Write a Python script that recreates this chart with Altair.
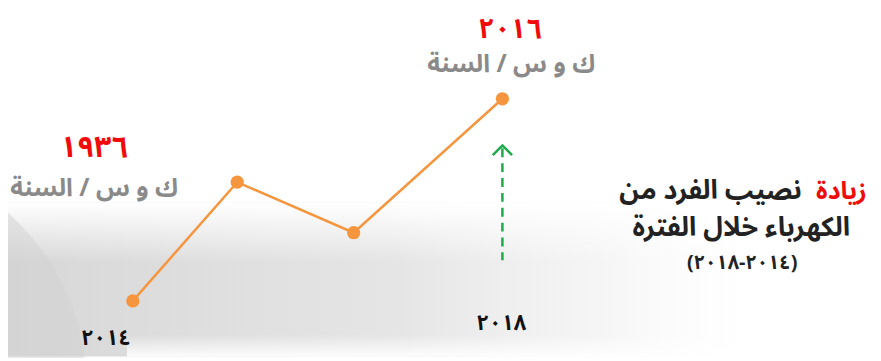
import altair as alt
import pandas as pd

# ---- data ----
years = [2014, 2015.13, 2016.39, 2018]          # horizontal position of each point
values = [1936, 1983, 1963, 2016]              # kWh per person per year
value_labels = ["١٩٣٦", "", "", "٢٠١٦"]
year_labels = ["٢٠١٤", "", "", "٢٠١٨"]
unit_label = "ك و س / السنة"
title_red = "زيادة"
title_line1 = "نصيب الفرد من"
title_line2 = "الكهرباء خلال الفترة"
title_line3 = "(٢٠١٤-٢٠١٨)"

ORANGE = "#F5963F"
RED = "#F00A0A"
GRAY = "#8A8A8A"
GREEN = "#1DAA4A"
FONT = "Noto Sans Arabic, Noto Kufi Arabic, DejaVu Sans"

W, H = 873, 350

df = pd.DataFrame({"year": years, "value": values,
                   "vlabel": value_labels, "ylabel": year_labels,
                   "idx": list(range(len(years)))})
df["unit"] = unit_label

xs = alt.X("year:Q", scale=alt.Scale(domain=[2012.649, 2022.011], nice=False, zero=False), axis=None)
ys = alt.Y("value:Q", scale=alt.Scale(domain=[1914.04, 2051.29], nice=False, zero=False), axis=None)

base = alt.Chart(df)

# ---- decorative background ----
bg_df = pd.DataFrame({"k": [0]})
band = alt.Chart(bg_df).mark_rect(
    color=alt.LinearGradient(gradient="linear", x1=0, x2=1, y1=0, y2=0,
                             stops=[alt.GradientStop(color="rgba(205,205,205,0.8)", offset=0),
                                    alt.GradientStop(color="rgba(218,218,218,0.7)", offset=0.45),
                                    alt.GradientStop(color="rgba(235,235,235,0.45)", offset=0.7),
                                    alt.GradientStop(color="rgba(255,255,255,0)", offset=0.88)])
).encode(x=alt.value(0), x2=alt.value(W), y=alt.value(195), y2=alt.value(H))
fade_top = alt.Chart(bg_df).mark_rect(
    color=alt.LinearGradient(gradient="linear", x1=0, x2=0, y1=0, y2=1,
                             stops=[alt.GradientStop(color="rgba(255,255,255,1)", offset=0),
                                    alt.GradientStop(color="rgba(255,255,255,0)", offset=1)])
).encode(x=alt.value(0), x2=alt.value(W), y=alt.value(195), y2=alt.value(255))
fade_bot = alt.Chart(bg_df).mark_rect(
    color=alt.LinearGradient(gradient="linear", x1=0, x2=0, y1=0, y2=1,
                             stops=[alt.GradientStop(color="rgba(255,255,255,0)", offset=0),
                                    alt.GradientStop(color="rgba(255,255,255,0.9)", offset=1)])
).encode(x=alt.value(120), x2=alt.value(W), y=alt.value(328), y2=alt.value(H))
disc = alt.Chart(bg_df).mark_point(shape="circle", filled=True, color="#d2d2d2", opacity=0.5,
                                   size=225000).encode(x=alt.value(-158), y=alt.value(382))

# ---- data marks ----
line = base.mark_line(color=ORANGE, strokeWidth=2.5).encode(x=xs, y=ys)
pts = base.mark_point(filled=True, color=ORANGE, opacity=1, size=180).encode(x=xs, y=ys)

first = base.transform_filter("datum.idx == 0")
last = base.transform_filter("datum.idx == 3")

v_first = first.mark_text(font=FONT, fontWeight="bold", fontSize=30, color=RED,
                          dx=-39, dy=-154, baseline="middle").encode(x=xs, y=ys, text="vlabel:N")
u_first = first.mark_text(font=FONT, fontWeight="bold", fontSize=25, color=GRAY,
                          dx=-39, dy=-114, baseline="middle").encode(x=xs, y=ys, text="unit:N")
y_first = first.mark_text(font=FONT, fontWeight="bold", fontSize=22, color="#111111",
                          dx=-27, dy=38, baseline="middle").encode(x=xs, y=ys, text="ylabel:N")

v_last = last.mark_text(font=FONT, fontWeight="bold", fontSize=28, color=RED,
                        dx=8, dy=-69, baseline="middle").encode(x=xs, y=ys, text="vlabel:N")
u_last = last.mark_text(font=FONT, fontWeight="bold", fontSize=25, color=GRAY,
                        dx=9, dy=-35, baseline="middle").encode(x=xs, y=ys, text="unit:N")
y_last = last.mark_text(font=FONT, fontWeight="bold", fontSize=22, color="#111111",
                        dx=-1, dy=226, baseline="middle").encode(x=xs, y=ys, text="ylabel:N")

arrow_shaft = last.mark_rule(color=GREEN, strokeWidth=2.5, strokeDash=[9, 6],
                             yOffset=50, y2Offset=163).encode(x=xs, y=ys, y2="value:Q")
arrow_head = last.mark_point(shape="M-1,0.5L0,-0.5L1,0.5", filled=False, color=GREEN,
                             strokeWidth=2.5, size=380, opacity=1, yOffset=52).encode(x=xs, y=ys)

# ---- side title ----
t_df = pd.DataFrame({"k": [0]})
t_red = alt.Chart(t_df).mark_text(text=title_red, font=FONT, fontWeight="bold", fontSize=25,
                                  color=RED, align="center", baseline="middle").encode(
    x=alt.value(841), y=alt.value(183))
t_l1 = alt.Chart(t_df).mark_text(text=title_line1, font=FONT, fontWeight="bold", fontSize=27,
                                 color="#222222", align="center", baseline="middle").encode(
    x=alt.value(709), y=alt.value(183))
t_l2 = alt.Chart(t_df).mark_text(text=title_line2, font=FONT, fontWeight="bold", fontSize=27,
                                 color="#222222", align="center", baseline="middle").encode(
    x=alt.value(740), y=alt.value(220))
t_l3 = alt.Chart(t_df).mark_text(text=title_line3, font=FONT, fontWeight="bold", fontSize=20,
                                 color="#222222", align="center", baseline="middle", dir="rtl").encode(
    x=alt.value(741), y=alt.value(256))

chart = alt.layer(
    band, fade_top, fade_bot, disc,
    line, pts, arrow_shaft, arrow_head,
    v_first, u_first, y_first, v_last, u_last, y_last,
    t_red, t_l1, t_l2, t_l3
).properties(width=W, height=H, padding=0, autosize="none", background="white"
).configure_view(stroke=None, clip=False)

chart.save("out.html", embed_options={"renderer": "svg", "actions": False})
